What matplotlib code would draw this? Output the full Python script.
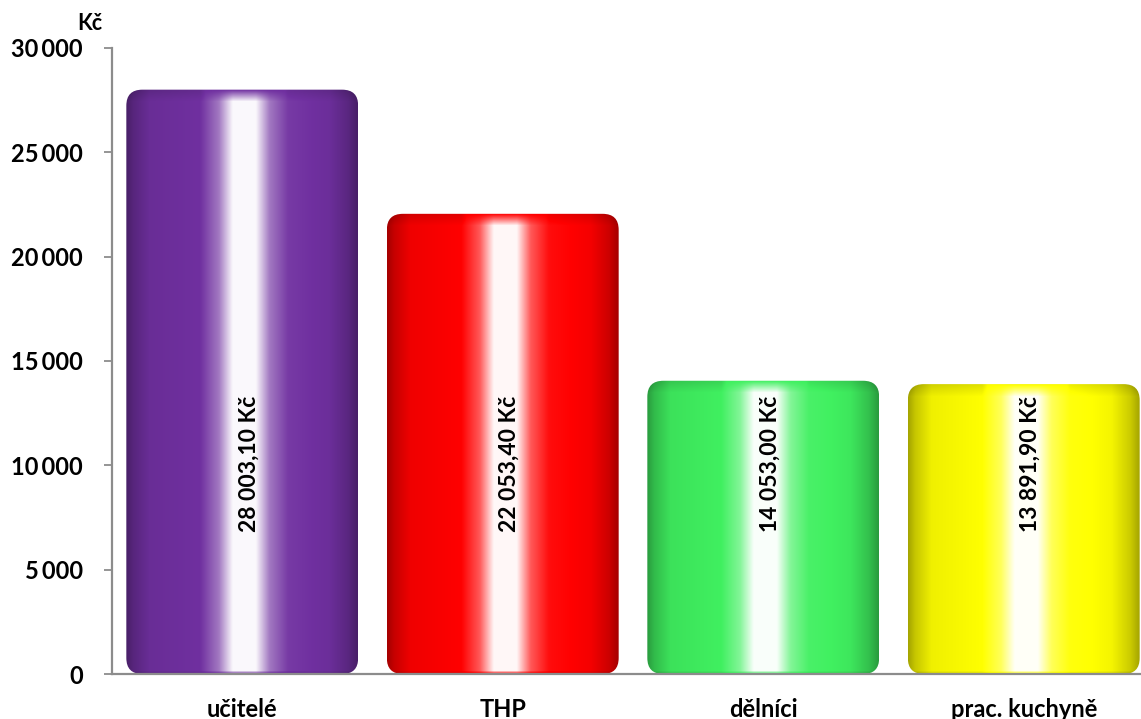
import numpy as np
import matplotlib
matplotlib.use("Agg")
import matplotlib.pyplot as plt
from matplotlib.patches import FancyBboxPatch
from matplotlib.colors import to_rgb

plt.rcParams['font.family'] = ['Lato', 'DejaVu Sans']
plt.rcParams['font.weight'] = 'bold'

# Data
categories = ["učitelé", "THP", "dělníci", "prac. kuchyně"]
values = [28003.10, 22053.40, 14053.00, 13891.90]
value_labels = ["28 003,10 Kč", "22 053,40 Kč", "14 053,00 Kč", "13 891,90 Kč"]
bar_colors = ["#7030a0", "#ff0000", "#40f060", "#ffff00"]
y_ticks = [0, 5000, 10000, 15000, 20000, 25000, 30000]

W, H = 1141, 719
fig = plt.figure(figsize=(W / 100, H / 100), dpi=100)
ax = fig.add_axes([112 / W, 45 / H, 1042 / W, 626 / H])
ax.set_xlim(-0.5, 3.5)
ax.set_ylim(0, 30000)

BAR_W = 0.89

# horizontal shading profile of a cylinder (negative = darker, positive = lighter)
prof_t = [0.0, 0.03, 0.10, 0.32, 0.40, 0.46, 0.56, 0.62, 0.70, 0.88, 0.96, 1.0]
prof_v = [-0.35, -0.22, -0.06, 0.0, 0.35, 0.97, 0.97, 0.35, 0.05, -0.04, -0.2, -0.35]


def shade(base, s):
    base = np.array(to_rgb(base))
    s = s[..., None]
    light = base + (1 - base) * np.clip(s, 0, 1)
    dark = base * (1 + np.clip(s, -1, 0))
    return np.where(s >= 0, light, dark)


bars = ax.bar(range(len(values)), values, width=BAR_W, color='none', edgecolor='none')
fig.canvas.draw()
px_per_y = ax.transData.transform((0, 1000))[1] - ax.transData.transform((0, 0))[1]
px_per_y /= 1000.0
px_per_x = ax.transData.transform((1, 0))[0] - ax.transData.transform((0, 0))[0]

r_px = 16
for rect, col in zip(bars, bar_colors):
    x0, w, h = rect.get_x(), rect.get_width(), rect.get_height()
    nrows = int(h * px_per_y)
    ncols = 200
    t = np.linspace(0, 1, ncols)
    hs = np.interp(t, prof_t, prof_v)
    rows = np.arange(nrows)  # 0 = top
    top_band = 12.0
    k = np.clip(rows / top_band, 0, 1)
    S = np.outer(k, hs) + np.outer(1 - k, np.minimum(hs, 0.1) - 0.12)
    bot = np.clip((nrows - rows) / 4.0, 0, 1)
    S = S * bot[:, None] + (1 - bot[:, None]) * (np.minimum(S, 0) - 0.15)
    img = shade(col, S)
    patch = FancyBboxPatch((x0, 0), w, h,
                           boxstyle=f"round,pad=0,rounding_size={r_px / px_per_x}",
                           mutation_aspect=px_per_x / px_per_y,
                           facecolor='none', edgecolor='none', transform=ax.transData)
    ax.add_patch(patch)
    im = ax.imshow(img, extent=(x0, x0 + w, 0, h), aspect='auto',
                   interpolation='bilinear', zorder=2)
    im.set_clip_path(patch)

ax.set_xlim(-0.5, 3.5)
ax.set_ylim(0, 30000)

for i, lab in enumerate(value_labels):
    ax.text(i + 0.025, 6800, lab, rotation=90, ha='center', va='bottom',
            fontsize=16.5, fontweight='bold', color='black', zorder=3)

ax.set_yticks(y_ticks)
ax.set_yticklabels([f"{v:,.0f}".replace(",", "\u2009") for v in y_ticks])
ax.set_xticks(range(len(categories)))
ax.set_xticklabels(categories)

for s in ['top', 'right']:
    ax.spines[s].set_visible(False)
for s in ['left', 'bottom']:
    ax.spines[s].set_color('#8c8c8c')
    ax.spines[s].set_linewidth(1.6)

ax.tick_params(axis='y', direction='out', length=6, width=1.3, color='#8c8c8c',
               labelsize=17, pad=15)
ax.tick_params(axis='x', length=0, labelsize=17, pad=17)

fig.text(90 / W, 1 - 24 / H, "Kč", ha='center', va='center', fontsize=15.5,
         fontweight='bold')

fig.savefig("out.png", dpi=100)
